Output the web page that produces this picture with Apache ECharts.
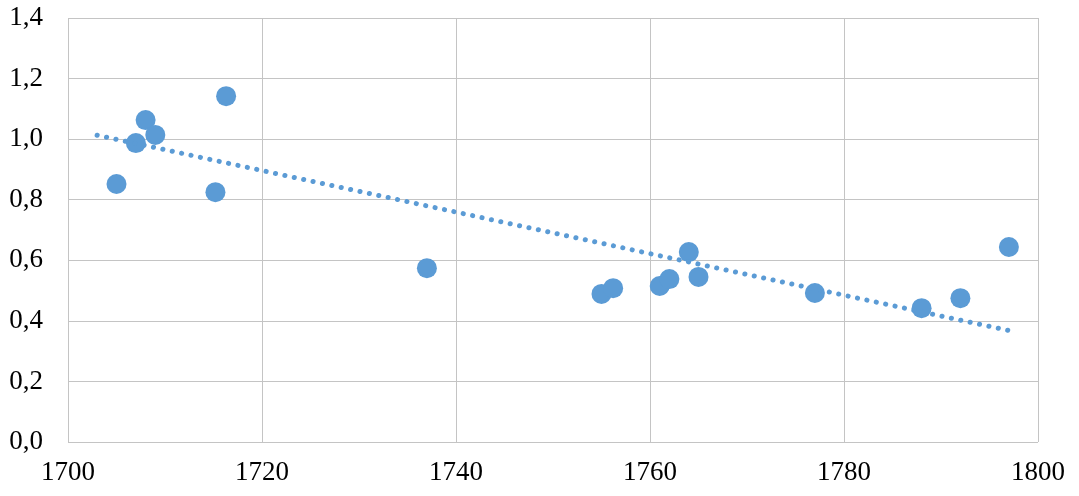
<!DOCTYPE html>
<html>
<head>
<meta charset="utf-8">
<script src="https://cdn.jsdelivr.net/npm/echarts@6/dist/echarts.min.js"></script>
<style>
  html, body { margin: 0; padding: 0; background: #fff; }
  #chart { width: 1079px; height: 496px; }
</style>
</head>
<body>
<div id="chart"></div>
<script>
// observed points (year, value)
const years = [1705, 1707, 1708, 1709, 1715.2, 1716.3, 1737, 1755, 1756.2, 1761, 1762, 1764, 1765, 1777, 1788, 1792, 1797];
const values = [0.852, 0.987, 1.063, 1.014, 0.825, 1.142, 0.574, 0.489, 0.508, 0.515, 0.538, 0.627, 0.545, 0.492, 0.442, 0.475, 0.644];

// linear trend line ends
const trendYears = [1703, 1797.3];
const trendValues = [1.013, 0.366];

const blue = "#5b9bd5";
const font = "'Liberation Serif', 'Times New Roman', serif";

const chart = echarts.init(document.getElementById("chart"));

chart.setOption({
  animation: false,
  grid: { left: 68, right: 41, top: 18, bottom: 54, containLabel: false },
  xAxis: {
    type: "value",
    min: 1700,
    max: 1800,
    interval: 20,
    axisLine: { show: false },
    axisTick: { show: false },
    splitLine: { show: true, lineStyle: { color: "#c4c4c4", width: 1 } },
    axisLabel: {
      color: "#000",
      fontFamily: font,
      fontSize: 27,
      margin: 17,
      formatter: v => String(v)
    }
  },
  yAxis: {
    type: "value",
    min: 0,
    max: 1.4,
    interval: 0.2,
    axisLine: { show: false },
    axisTick: { show: false },
    splitLine: { show: true, lineStyle: { color: "#c4c4c4", width: 1 } },
    axisLabel: {
      color: "#000",
      fontFamily: font,
      fontSize: 27,
      margin: 25,
      formatter: v => v.toFixed(1).replace(".", ",")
    }
  },
  series: [
    {
      type: "scatter",
      data: years.map((y, i) => [y, values[i]]),
      symbol: "circle",
      symbolSize: 20,
      itemStyle: { color: blue, opacity: 1 },
      z: 2
    },
    {
      type: "line",
      data: trendYears.map((y, i) => [y, trendValues[i]]),
      showSymbol: false,
      symbol: "none",
      lineStyle: { color: blue, width: 5, type: [0.1, 9.5], cap: "round" },
      z: 3
    }
  ]
});
</script>
</body>
</html>
